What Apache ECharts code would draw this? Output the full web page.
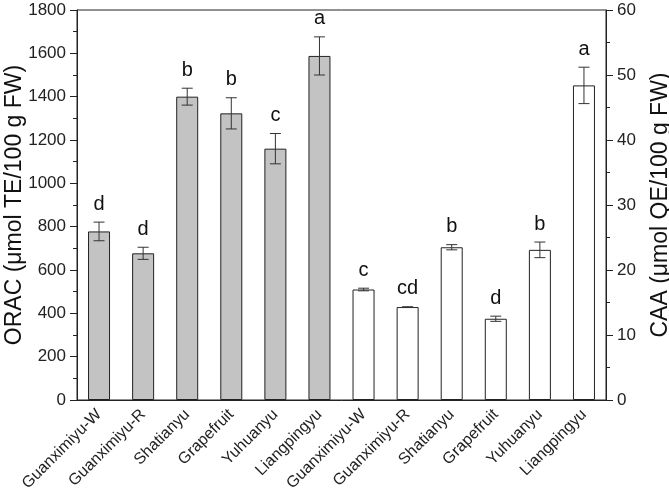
<!DOCTYPE html>
<html>
<head>
<meta charset="utf-8">
<script src="https://cdn.jsdelivr.net/npm/echarts@6/dist/echarts.min.js"></script>
<style>html,body{margin:0;padding:0;background:#fff}#c{width:669px;height:503px}</style>
</head>
<body>
<div id="c"></div>
<script>
var categories = ['Guanximiyu-W','Guanximiyu-R','Shatianyu','Grapefruit','Yuhuanyu','Liangpingyu',
                  'Guanximiyu-W','Guanximiyu-R','Shatianyu','Grapefruit','Yuhuanyu','Liangpingyu'];
var oracValues = [778, 677, 1400, 1323, 1160, 1588];
var oracErrors = [43, 28, 39, 72, 70, 88];
var oracLetters = ['d','d','b','b','c','a'];
var caaValues = [17.0, 14.3, 23.5, 12.5, 23.1, 48.4];
var caaErrors = [0.2, 0.05, 0.4, 0.4, 1.2, 2.8];
var caaLetters = ['c','cd','b','d','b','a'];
var oracTicks = [0,200,400,600,800,1000,1200,1400,1600,1800];
var caaTicks = [0,10,20,30,40,50,60];

var FONT = '"Liberation Sans", Arial, sans-serif';
var n1 = oracValues.length;

var oracBar = categories.map(function(c,i){ return i < n1 ? oracValues[i] : '-'; });
var caaBar = categories.map(function(c,i){ return i >= n1 ? caaValues[i-n1] : '-'; });
var oracErr = oracValues.map(function(v,i){ return [i, v, oracErrors[i]]; });
var caaErr = caaValues.map(function(v,i){ return [i + n1, v, caaErrors[i]]; });

function makeRender(letters){
  return function(params, api){
    var x = api.value(0), v = api.value(1), e = api.value(2);
    var hi = api.coord([x, v + e]);
    var lo = api.coord([x, v - e]);
    var hw = 5.5;
    var st = {stroke:'#333', lineWidth:1};
    return {type:'group', children:[
      {type:'line', shape:{x1:hi[0], y1:hi[1], x2:lo[0], y2:lo[1]}, style:st},
      {type:'line', shape:{x1:hi[0]-hw, y1:hi[1], x2:hi[0]+hw, y2:hi[1]}, style:st},
      {type:'line', shape:{x1:lo[0]-hw, y1:lo[1], x2:lo[0]+hw, y2:lo[1]}, style:st},
      {type:'text', x:hi[0], y:hi[1]-8, style:{text:letters[params.dataIndex], fill:'#111',
        font:'20px ' + FONT, align:'center', verticalAlign:'bottom'}}
    ]};
  };
}

var chart = echarts.init(document.getElementById('c'), null, {renderer:'canvas'});
chart.setOption({
  animation:false,
  backgroundColor:'#fff',
  grid:{left:77, right:63, top:10, bottom:103, containLabel:false, outerBoundsMode:'none',
        show:true, borderColor:'#222', borderWidth:1, backgroundColor:'transparent'},
  xAxis:{
    type:'category', data:categories,
    axisLine:{lineStyle:{color:'#222', width:1}},
    axisTick:{alignWithLabel:true, length:6, lineStyle:{color:'#222'}},
    axisLabel:{rotate:45, fontSize:16, fontFamily:FONT, color:'#222', margin:12, interval:0}
  },
  yAxis:[{
    type:'value', min:0, max:1800, interval:200, position:'left',
    name:'ORAC (μmol TE/100 g FW)', nameLocation:'middle', nameGap:51, nameMoveOverlap:false,
    nameTextStyle:{fontSize:23, fontFamily:FONT, color:'#111'},
    axisLine:{show:true, lineStyle:{color:'#222'}},
    axisTick:{show:true, length:7, lineStyle:{color:'#222'}},
    minorTick:{show:true, splitNumber:2, length:4, lineStyle:{color:'#222'}},
    splitLine:{show:false},
    axisLabel:{fontSize:17, fontFamily:FONT, color:'#222', margin:11,
      formatter:function(v){ return oracTicks.indexOf(v) >= 0 ? String(v) : ''; }}
  },{
    type:'value', min:0, max:60, interval:10, position:'right',
    name:'CAA (μmol QE/100 g FW)', nameLocation:'middle', nameGap:43, nameMoveOverlap:false,
    nameTextStyle:{fontSize:23, fontFamily:FONT, color:'#111'},
    axisLine:{show:true, lineStyle:{color:'#222'}},
    axisTick:{show:true, length:7, lineStyle:{color:'#222'}},
    minorTick:{show:true, splitNumber:2, length:4, lineStyle:{color:'#222'}},
    splitLine:{show:false},
    axisLabel:{fontSize:17, fontFamily:FONT, color:'#222', margin:11,
      formatter:function(v){ return caaTicks.indexOf(v) >= 0 ? String(v) : ''; }}
  }],
  series:[
    {type:'bar', data:oracBar, yAxisIndex:0, barWidth:22, barGap:'-100%',
     itemStyle:{color:'#c3c3c3', borderColor:'#222', borderWidth:1}},
    {type:'bar', data:caaBar, yAxisIndex:1, barWidth:22, barGap:'-100%',
     itemStyle:{color:'#ffffff', borderColor:'#222', borderWidth:1}},
    {type:'custom', yAxisIndex:0, data:oracErr, renderItem:makeRender(oracLetters), z:5},
    {type:'custom', yAxisIndex:1, data:caaErr, renderItem:makeRender(caaLetters), z:5}
  ]
});
</script>
</body>
</html>
